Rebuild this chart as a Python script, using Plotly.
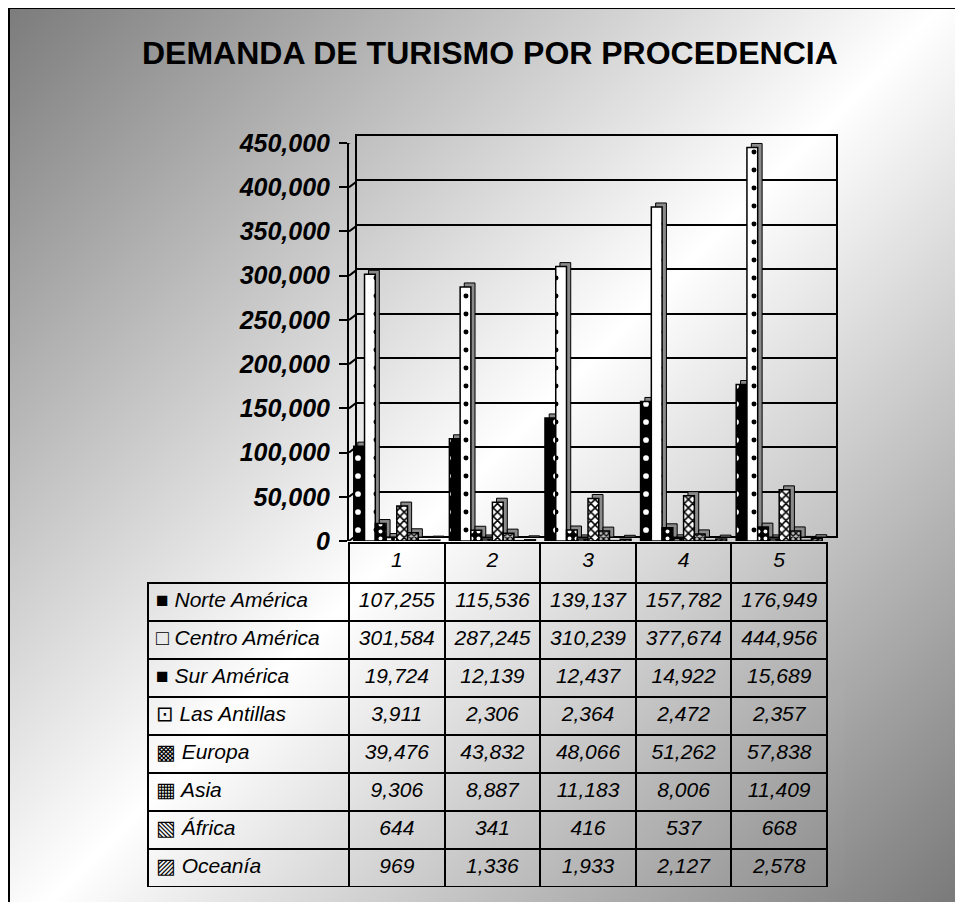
import plotly.graph_objects as go

W, H = 963, 902

title = "DEMANDA DE TURISMO POR PROCEDENCIA"
periods = ["1", "2", "3", "4", "5"]
series_names = ["Norte América", "Centro América", "Sur América", "Las Antillas",
                "Europa", "Asia", "África", "Oceanía"]
norte = [107255, 115536, 139137, 157782, 176949]
centro = [301584, 287245, 310239, 377674, 444956]
sur = [19724, 12139, 12437, 14922, 15689]
antillas = [3911, 2306, 2364, 2472, 2357]
europa = [39476, 43832, 48066, 51262, 57838]
asia = [9306, 8887, 11183, 8006, 11409]
africa = [644, 341, 416, 537, 668]
oceania = [969, 1336, 1933, 2127, 2578]
y_ticks = [0, 50000, 100000, 150000, 200000, 250000, 300000, 350000, 400000, 450000]

all_series = [norte, centro, sur, antillas, europa, asia, africa, oceania]

symbols = ["■", "□", "■", "⊡", "▩", "▦", "▧", "▨"]
patterns = [
    dict(shape=".", bgcolor="black", fgcolor="white", size=18, solidity=0.08),
    dict(shape=".", bgcolor="white", fgcolor="black", size=18, solidity=0.06),
    dict(shape=".", bgcolor="black", fgcolor="white", size=7, solidity=0.25),
    dict(shape=".", bgcolor="white", fgcolor="black", size=8, solidity=0.2),
    dict(shape="x", bgcolor="white", fgcolor="black", size=6, solidity=0.45),
    dict(shape="x", bgcolor="#bbbbbb", fgcolor="black", size=4, solidity=0.5),
    dict(shape="\\", bgcolor="white", fgcolor="black", size=4, solidity=0.5),
    dict(shape="/", bgcolor="white", fgcolor="black", size=4, solidity=0.5),
]

OFF = 8  # page body margin
YMAX = 450000
DEPTH = YMAX * 6 / 398  # wall depth rise expressed in axis units


def px(x):
    return (x - OFF) / W


def py(y):
    return 1 - (y - OFF) / H


fig = go.Figure()

# background gradient (decorative, 45 degree, grey corners -> white centre band)
fig.add_trace(go.Heatmap(
    x=[0, W], y=[0, H], z=[[0, W], [H, W + H]],
    zmin=0, zmax=W + H,
    colorscale=[[0, "#7c7c7c"], [0.5, "#ffffff"], [1, "#767676"]],
    zsmooth="best", showscale=False, hoverinfo="skip",
    xaxis="x", yaxis="y"))

# left wall: tick connectors running back to the wall gridlines
cx, cy = [], []
for v in y_ticks:
    cx += [0, 1, None]
    cy += [v, v + DEPTH, None]
fig.add_trace(go.Scatter(x=cx, y=cy, mode="lines", line=dict(color="black", width=2),
                         showlegend=False, hoverinfo="skip", xaxis="x2", yaxis="y2"))

# back wall with gridlines
fig.add_trace(go.Scatter(x=[periods[0]], y=[0], mode="markers", marker=dict(opacity=0),
                         showlegend=False, hoverinfo="skip", xaxis="x3", yaxis="y3"))

# bar back faces (depth), then front faces
for axes in (("x4", "y4"), ("x5", "y5")):
    for name, vals, pat in zip(series_names, all_series, patterns):
        if axes[0] == "x4":
            marker = dict(color="#8a8a8a", line=dict(color="black", width=1))
        else:
            marker = dict(color=pat["bgcolor"], pattern=dict(fillmode="replace", **pat),
                          line=dict(color="black", width=1.5))
        fig.add_trace(go.Bar(x=periods, y=vals, name=name, xaxis=axes[0], yaxis=axes[1],
                             marker=marker, showlegend=False))

# data table
label_col = [f"{s} {n}" for s, n in zip(symbols, series_names)]
cols = [label_col] + [[f"{s[i]:,}" for s in all_series] for i in range(len(periods))]
tfont = dict(family="Liberation Sans, Arial, DejaVu Sans", size=21, color="black", style="italic")
fig.add_trace(go.Table(
    domain=dict(x=[px(148), px(827)], y=[py(887), py(543)]),
    columnwidth=[201, 95.6, 95.6, 95.6, 95.6, 95.6],
    header=dict(values=[""] + periods, height=40,
                fill=dict(color="rgba(0,0,0,0)"),
                line=dict(color=["rgba(0,0,0,0)"] + ["black"] * 5, width=2),
                align="center", font=tfont),
    cells=dict(values=cols, height=38,
               fill=dict(color="rgba(0,0,0,0)"),
               line=dict(color="black", width=2),
               align=["left"] + ["center"] * 5, font=tfont)))

hidden_cat = dict(showticklabels=False, showgrid=False, showline=False, zeroline=False,
                  type="category", automargin=False)
hidden_val = dict(range=[0, YMAX], showticklabels=False, showgrid=False, showline=False,
                  zeroline=False, automargin=False)

fig.update_layout(
    width=W, height=H, autosize=False,
    margin=dict(l=0, r=0, t=0, b=0, pad=0, autoexpand=False),
    showlegend=False,
    paper_bgcolor="white", plot_bgcolor="rgba(0,0,0,0)",
    bargap=0.1, bargroupgap=0, barmode="group",
    xaxis=dict(domain=[px(9), 1], range=[0, W], visible=False, automargin=False),
    yaxis=dict(domain=[0, py(8)], range=[H, 0], visible=False, automargin=False),
    xaxis2=dict(domain=[px(349), px(357)], range=[0, 1], visible=False, automargin=False,
                anchor="y2"),
    yaxis2=dict(domain=[py(541), py(143)], range=[0, YMAX], visible=False,
                automargin=False, anchor="x2"),
    xaxis3=dict(domain=[px(357), px(836)], showgrid=False, zeroline=False,
                showticklabels=False, showline=True, mirror=True, linecolor="black",
                linewidth=2, anchor="y3", automargin=False, type="category",
                categoryarray=periods, categoryorder="array"),
    yaxis3=dict(domain=[py(536), py(136)], range=[0, YMAX], tickvals=y_ticks,
                showgrid=True, gridcolor="black", gridwidth=2, zeroline=False,
                showticklabels=False, showline=True, mirror=True, linecolor="black",
                linewidth=2, anchor="x3", automargin=False),
    xaxis4=dict(domain=[px(353), px(831.5)], anchor="y4", **hidden_cat),
    yaxis4=dict(domain=[py(537), py(139)], anchor="x4", **hidden_val),
    xaxis5=dict(domain=[px(349), px(827)], anchor="y5", **hidden_cat),
    yaxis5=dict(domain=[py(541), py(143)], range=[0, YMAX], tickvals=y_ticks,
                tickformat=",", showgrid=False, zeroline=False, showline=True,
                linecolor="black", linewidth=2, ticks="outside", ticklen=8,
                tickwidth=2, tickcolor="black", anchor="x5", automargin=False,
                ticklabelstandoff=4,
                tickfont=dict(family="Liberation Sans, Arial", size=25, color="black",
                              weight="bold", style="italic")),
    shapes=[dict(type="rect", xref="paper", yref="paper", x0=px(9), x1=px(1000),
                 y0=py(950), y1=py(8), line=dict(color="black", width=2),
                 fillcolor="rgba(0,0,0,0)")],
    annotations=[dict(text=f"<b>{title}</b>", x=px(490), y=py(53), xref="paper",
                      yref="paper", xanchor="center", yanchor="middle", showarrow=False,
                      font=dict(family="Liberation Sans, Arial", size=32, color="black"))],
)

fig.write_html("out.html")
